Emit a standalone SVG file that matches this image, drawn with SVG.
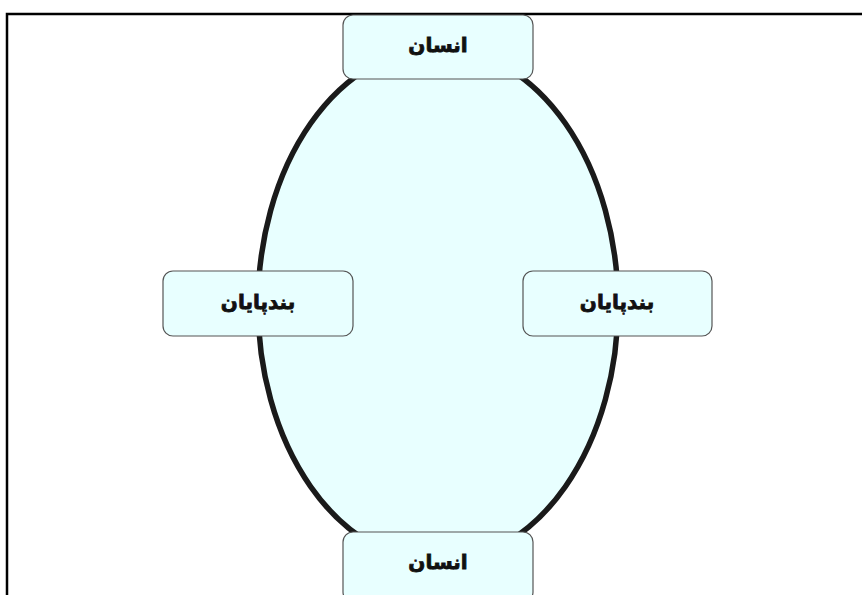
<svg xmlns="http://www.w3.org/2000/svg" width="862" height="595" viewBox="0 0 862 595">
<style>
.box{fill:#e8ffff;stroke:#555;stroke-width:1.2}
.lbl{font-family:"DejaVu Sans",sans-serif;font-weight:bold;font-size:20px;fill:#111;stroke:#111;stroke-width:0.8;text-anchor:middle;dominant-baseline:central}
</style>
<rect width="862" height="595" fill="#fff"/>
<path d="M7,595 V14 H862" fill="none" stroke="#000" stroke-width="2.5"/>
<g id="connectors">
<ellipse cx="438" cy="305" rx="180" ry="257" fill="#e8ffff" stroke="#1a1a1a" stroke-width="5.5"/>
</g>
<g id="top"><rect class="box" x="343" y="15" width="190" height="64" rx="10"/><text class="lbl" x="438" y="45" direction="rtl">انسان</text></g>
<g id="left"><rect class="box" x="163" y="271" width="190" height="65" rx="10"/><text class="lbl" x="258" y="302" direction="rtl">بندپایان</text></g>
<g id="right"><rect class="box" x="523" y="271" width="189" height="65" rx="10"/><text class="lbl" x="617" y="302" direction="rtl">بندپایان</text></g>
<g id="bottom"><rect class="box" x="343" y="532" width="190" height="70" rx="10"/><text class="lbl" x="438" y="562" direction="rtl">انسان</text></g>
</svg>
